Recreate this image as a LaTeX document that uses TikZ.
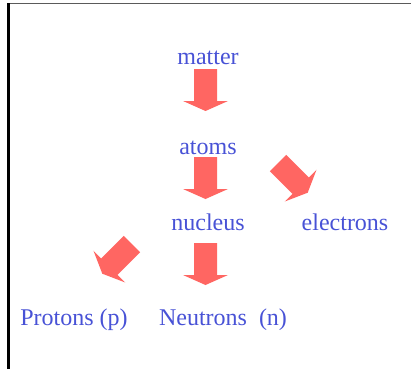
\documentclass[tikz,border=0pt]{standalone}
\usepackage{fontspec}
\setmainfont{Liberation Serif}
\definecolor{txtblue}{RGB}{72,82,214}
\definecolor{arrowred}{RGB}{255,102,98}
\definecolor{framegray}{RGB}{90,90,90}
\tikzset{
  lbl/.style={anchor=base, inner sep=0pt, text=txtblue, font=\fontsize{24}{28}\selectfont},
  blockarrow/.pic={\fill[arrowred] (-11.5,0) -- (11.5,0) -- (11.5,32) -- (22.5,32) -- (0,42) -- (-22.5,32) -- (-11.5,32) -- cycle;}
}
\begin{document}
\begin{tikzpicture}[x=1pt,y=-1pt]
\useasboundingbox (0,0) rectangle (411,369);
% frame
\draw[framegray, line width=1pt] (8,3.8) -- (411,3.8);
\draw[black, line width=2.6pt] (8.5,3.3) -- (8.5,369);
% labels
\node[lbl] (matter) at (208,64) {matter};
\node[lbl] (atoms) at (208,154) {atoms};
\node[lbl] (nucleus) at (208,230) {nucleus};
\node[lbl] (electrons) at (345,230) {electrons};
\node[lbl] (protons) at (74,325) {Protons (p)};
\node[lbl] (neutrons) at (223,325) {Neutrons\ \ (n)};
% arrows
\coordinate (a1) at (205.5,69);
\coordinate (a2) at (205.5,157);
\coordinate (a3) at (278,163);
\coordinate (a4) at (205.5,243);
\coordinate (a5) at (132,244);
\pic at (a1) {blockarrow};
\pic at (a2) {blockarrow};
\pic[rotate=45] at (a3) {blockarrow};
\pic at (a4) {blockarrow};
\pic[rotate=-45] at (a5) {blockarrow};
\end{tikzpicture}
\end{document}
